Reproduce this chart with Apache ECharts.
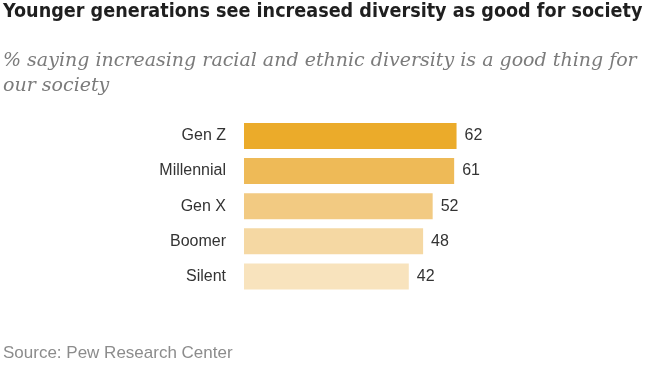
<!DOCTYPE html>
<html>
<head>
<meta charset="utf-8">
<script src="https://cdn.jsdelivr.net/npm/echarts@6/dist/echarts.min.js"></script>
<style>
html,body{margin:0;padding:0;background:#fff;}
#chart{width:650px;height:373px;}
</style>
</head>
<body>
<div id="chart"></div>
<script>
const categories = ['Gen Z', 'Millennial', 'Gen X', 'Boomer', 'Silent'];
const values = [62, 61, 52, 48, 42];
const barColors = ['#ebab2a', '#eeba57', '#f2ca82', '#f5d8a3', '#f8e3bd'];
const titleText = 'Younger generations see increased diversity as good for society';
const subtitleText = '% saying increasing racial and ethnic diversity is a good thing for\nour society';
const sourceText = 'Source: Pew Research Center';

const chart = echarts.init(document.getElementById('chart'), null, {renderer: 'canvas'});
chart.setOption({
  animation: false,
  backgroundColor: '#ffffff',
  title: [
    {
      text: titleText,
      left: 3, top: 2, padding: 0,
      textStyle: {fontFamily: "'DejaVu Sans Condensed', 'Liberation Sans Narrow', sans-serif", fontWeight: 'bold', fontSize: 19.6, color: '#1f1f1f'}
    },
    {
      text: subtitleText,
      left: 3, top: 49, padding: 0,
      textStyle: {fontFamily: "'DejaVu Serif', serif", fontStyle: 'italic', fontWeight: 'normal', fontSize: 19, lineHeight: 25, color: '#7b7b7b'}
    },
    {
      text: sourceText,
      left: 3, top: 345, padding: 0,
      textStyle: {fontFamily: 'Liberation Sans', fontWeight: 'normal', fontSize: 17, color: '#8c8c8c'}
    }
  ],
  grid: {left: 244, top: 118.4, width: 303.3, height: 175.6, containLabel: false},
  xAxis: {
    type: 'value', min: -27, max: 100, startValue: -27, show: false
  },
  yAxis: {
    type: 'category', data: categories, inverse: true,
    axisLine: {show: false}, axisTick: {show: false}, splitLine: {show: false},
    axisLabel: {margin: 18, fontFamily: 'Liberation Sans', fontSize: 16, color: '#333333'}
  },
  series: [{
    type: 'bar',
    barWidth: 26,
    data: values.map((v, i) => ({value: v, itemStyle: {color: barColors[i]}})),
    label: {show: true, position: 'right', distance: 8, fontFamily: 'Liberation Sans', fontSize: 16, color: '#333333'}
  }]
});
</script>
</body>
</html>
